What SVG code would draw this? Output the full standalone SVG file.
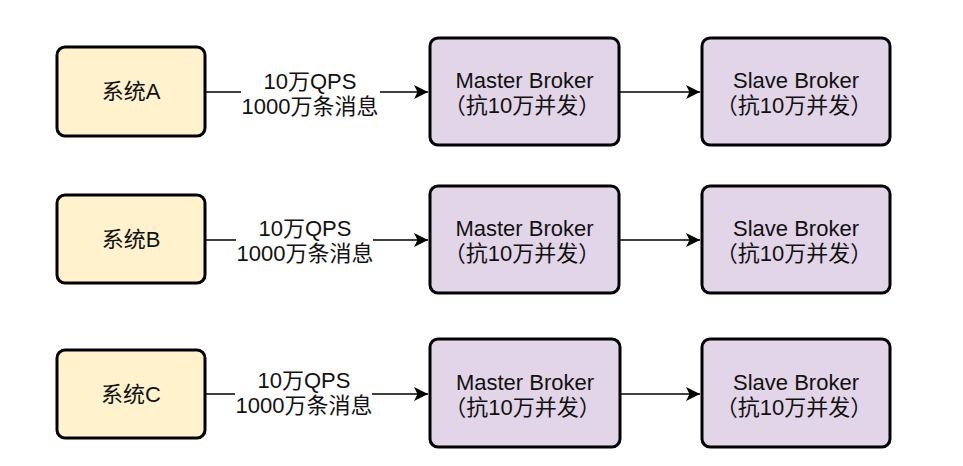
<svg xmlns="http://www.w3.org/2000/svg" width="963" height="466" viewBox="0 0 963 466">
  <style>
    .bg { fill: #ffffff; }
    .sys { fill: #fff2cc; stroke: #000000; stroke-width: 3; }
    .brk { fill: #e1d5e7; stroke: #000000; stroke-width: 3; }
    .t { font-family: "Liberation Sans", "Noto Sans CJK SC", sans-serif; font-size: 22px; fill: #111111; text-anchor: middle; }
    .edge { fill: none; stroke: #000000; stroke-width: 1.5; }
  </style>
  <defs>
    <marker id="arrow" markerUnits="userSpaceOnUse" markerWidth="16" markerHeight="16" refX="14" refY="7" orient="auto">
      <path d="M0,0 L14,7 L0,14 L3.5,7 Z" fill="#000000"/>
    </marker>
  </defs>
  <rect class="bg" x="0" y="0" width="963" height="466"/>

  <g id="connectors">
    <path class="edge" d="M205,92 H241 M380,92 H428" marker-end="url(#arrow)"/>
    <path class="edge" d="M619,92 H700" marker-end="url(#arrow)"/>
    <path class="edge" d="M205,240 H236 M373,240 H428" marker-end="url(#arrow)"/>
    <path class="edge" d="M619,240 H700" marker-end="url(#arrow)"/>
    <path class="edge" d="M205,394 H235 M372,394 H428" marker-end="url(#arrow)"/>
    <path class="edge" d="M620,394 H700" marker-end="url(#arrow)"/>
    <g id="label-a">
      <text class="t" x="310" y="89">10万QPS</text>
      <text class="t" x="310" y="114">1000万条消息</text>
    </g>
    <g id="label-b">
      <text class="t" x="305" y="236">10万QPS</text>
      <text class="t" x="305" y="261">1000万条消息</text>
    </g>
    <g id="label-c">
      <text class="t" x="304" y="388">10万QPS</text>
      <text class="t" x="304" y="413">1000万条消息</text>
    </g>
  </g>

  <g id="sysA">
    <rect class="sys" x="57" y="47" width="148" height="89" rx="8"/>
    <text class="t" x="131" y="99">系统A</text>
  </g>
  <g id="masterA">
    <rect class="brk" x="430" y="38" width="189" height="107" rx="8"/>
    <text class="t" x="524.5" y="88">Master Broker</text>
    <text class="t" x="522" y="113">（抗10万并发）</text>
  </g>
  <g id="slaveA">
    <rect class="brk" x="702" y="38" width="188" height="107" rx="8"/>
    <text class="t" x="796" y="88">Slave Broker</text>
    <text class="t" x="794" y="113">（抗10万并发）</text>
  </g>

  <g id="sysB">
    <rect class="sys" x="57" y="195" width="148" height="88" rx="8"/>
    <text class="t" x="131" y="247">系统B</text>
  </g>
  <g id="masterB">
    <rect class="brk" x="430" y="186" width="189" height="107" rx="8"/>
    <text class="t" x="524.5" y="236">Master Broker</text>
    <text class="t" x="522" y="261">（抗10万并发）</text>
  </g>
  <g id="slaveB">
    <rect class="brk" x="702" y="186" width="188" height="107" rx="8"/>
    <text class="t" x="796" y="236">Slave Broker</text>
    <text class="t" x="794" y="261">（抗10万并发）</text>
  </g>

  <g id="sysC">
    <rect class="sys" x="57" y="350" width="148" height="88" rx="8"/>
    <text class="t" x="131" y="402">系统C</text>
  </g>
  <g id="masterC">
    <rect class="brk" x="430" y="339" width="190" height="108" rx="8"/>
    <text class="t" x="525" y="390">Master Broker</text>
    <text class="t" x="522.5" y="415">（抗10万并发）</text>
  </g>
  <g id="slaveC">
    <rect class="brk" x="702" y="339" width="188" height="108" rx="8"/>
    <text class="t" x="796" y="390">Slave Broker</text>
    <text class="t" x="794" y="415">（抗10万并发）</text>
  </g>
</svg>
